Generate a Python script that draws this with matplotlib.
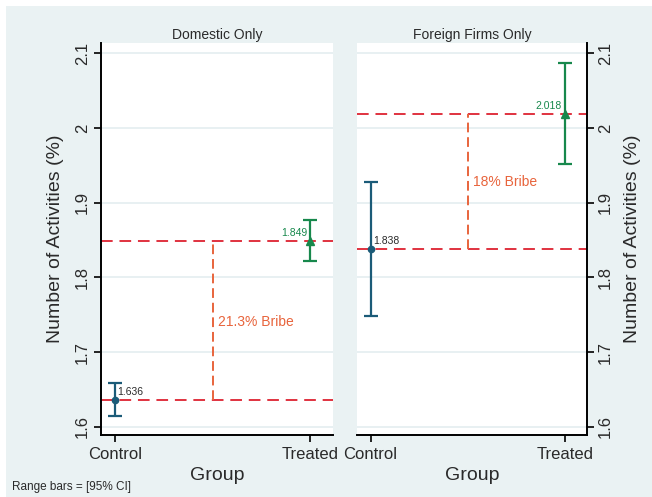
import matplotlib
matplotlib.use("Agg")
import matplotlib.pyplot as plt
from matplotlib.patches import Rectangle

plt.rcParams['font.family'] = ['Liberation Sans', 'DejaVu Sans']

# Data
groups = ["Control", "Treated"]
panel_titles = ["Domestic Only", "Foreign Firms Only"]
means = [[1.636, 1.849], [1.838, 2.018]]
ci_low = [[1.615, 1.822], [1.748, 1.951]]
ci_high = [[1.659, 1.877], [1.928, 2.086]]
bribe_labels = ["21.3% Bribe", "18% Bribe"]
bribe_label_y = [1.740, 1.928]
y_ticks = [1.6, 1.7, 1.8, 1.9, 2.0, 2.1]
y_tick_labels = ["1.6", "1.7", "1.8", "1.9", "2", "2.1"]

BG = "#eaf2f3"
GRID = "#e4eef0"
BLUE = "#1b5b78"
GREEN = "#17884c"
RED = "#e0323f"
ORANGE = "#e8643c"
TEXT = "#2a2a2a"

W, H = 652, 497
fig = plt.figure(figsize=(W / 100, H / 100), dpi=100)
fig.patch.set_facecolor("white")
fig.patches.append(Rectangle((6 / W, 0), 1, 1 - 6 / H, transform=fig.transFigure,
                             facecolor=BG, edgecolor="none", zorder=-10))

axes_px = [(101, 333), (357, 587)]
top_px, bot_px = 43, 435

for i in range(2):
    x0, x1 = axes_px[i]
    ax = fig.add_axes([x0 / W, 1 - bot_px / H, (x1 - x0) / W, (bot_px - top_px) / H])
    ax.set_facecolor("white")
    ax.set_ylim(1.5893, 2.1134)
    ax.set_xlim(-0.07, 1.115)
    for y in y_ticks:
        ax.axhline(y, color=GRID, lw=1.2, zorder=0)

    m = means[i]
    lo = ci_low[i]
    hi = ci_high[i]
    # Reference lines at each group mean
    for v in m:
        ax.axhline(v, color=RED, lw=1.4, ls=(0, (6, 3.5)), zorder=2)
    # Gap between the two group means
    ax.plot([0.5, 0.5], [m[0], m[1]], color=ORANGE, lw=1.4, ls=(0, (5, 2.5)), zorder=2)
    ax.text(0.53, bribe_label_y[i], bribe_labels[i], color=ORANGE, fontsize=10,
            va="center", ha="left")

    # Control group: range bar and circle
    ax.errorbar([0], [m[0]], yerr=[[m[0] - lo[0]], [hi[0] - m[0]]], fmt="o",
                color=BLUE, ms=4.5, lw=1.6, capsize=5, capthick=1.6, zorder=4)
    ax.text(0.015, m[0] + 0.004, f"{m[0]:.3f}", fontsize=7.5, color=TEXT,
            ha="left", va="bottom")
    # Treated group: range bar and triangle
    ax.errorbar([1], [m[1]], yerr=[[m[1] - lo[1]], [hi[1] - m[1]]], fmt="^",
                color=GREEN, ms=6, lw=1.6, capsize=5, capthick=1.6, zorder=4)
    ax.text(0.985, m[1] + 0.004, f"{m[1]:.3f}", fontsize=7.5, color=GREEN,
            ha="right", va="bottom")

    ax.set_xticks([0, 1])
    ax.set_xticklabels(groups, fontsize=12)
    ax.set_yticks(y_ticks)
    ax.set_yticklabels(y_tick_labels, fontsize=12, rotation=90, va="center")
    ax.tick_params(axis="both", length=5, width=1.2, color="black", labelcolor=TEXT)
    ax.tick_params(axis="y", pad=3)
    ax.set_xlabel("Group", fontsize=14, color=TEXT, labelpad=4)

    for s in ["top", "left", "right", "bottom"]:
        ax.spines[s].set_visible(False)
    ax.spines["bottom"].set_visible(True)
    ax.spines["bottom"].set_linewidth(1.4)
    if i == 0:
        ax.spines["left"].set_visible(True)
        ax.spines["left"].set_linewidth(1.4)
        ax.yaxis.set_ticks_position("left")
        ax.set_ylabel("Number of Activities (%)", fontsize=14, color=TEXT, labelpad=8)
    else:
        ax.spines["right"].set_visible(True)
        ax.spines["right"].set_linewidth(1.4)
        ax.yaxis.set_ticks_position("right")
        ax.yaxis.set_label_position("right")
        ax.set_ylabel("Number of Activities (%)", fontsize=14, color=TEXT,
                      labelpad=8, rotation=90)
    ax.set_title(panel_titles[i], fontsize=10, color=TEXT, pad=3)

fig.text(12 / W, 1 - 487 / H, "Range bars = [95% CI]", fontsize=8.5, color=TEXT,
         va="center", ha="left")

fig.savefig("out.png", dpi=100, facecolor=fig.get_facecolor())
